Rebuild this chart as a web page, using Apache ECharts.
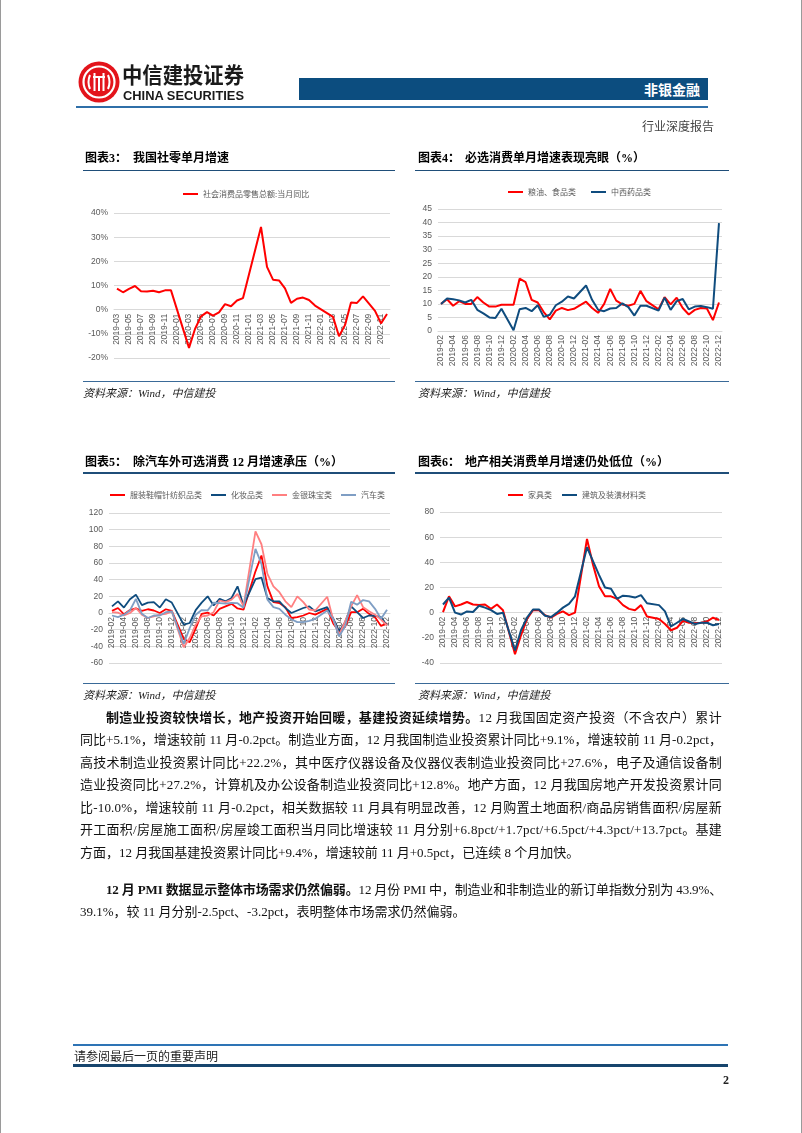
<!DOCTYPE html>
<html><head><meta charset="utf-8">
<script src="https://cdn.jsdelivr.net/npm/echarts@6/dist/echarts.min.js"></script>
<style>
html,body{margin:0;padding:0;background:#fff;}
body{width:802px;height:1133px;position:relative;overflow:hidden;font-family:"Liberation Serif","Noto Sans CJK SC",serif;}
.abs{position:absolute;white-space:nowrap;}
#chart{position:absolute;left:0;top:0;width:802px;height:1133px;}
.ttl{position:absolute;white-space:nowrap;font-family:"Liberation Serif","Noto Sans CJK SC";font-weight:bold;font-size:12px;color:#000;line-height:14px;}
.src{position:absolute;white-space:nowrap;font-style:italic;font-size:11px;color:#222;line-height:12px;}
.bar{position:absolute;}
.ln{position:absolute;left:80px;width:642px;font-size:13px;line-height:16px;color:#111;white-space:nowrap;}
</style></head>
<body>
<div id="chart"></div>
<div class="bar" style="left:0;top:0;width:1px;height:1133px;background:#9a9a9a;"></div>
<div class="bar" style="left:801px;top:0;width:1px;height:1133px;background:#9a9a9a;"></div>

<!-- header -->
<svg class="abs" style="left:78px;top:61px" width="44" height="44" viewBox="0 0 44 44">
  <circle cx="21" cy="21" r="20.5" fill="#e3141b"/>
  <circle cx="21" cy="21" r="15.5" fill="none" stroke="#fff" stroke-width="2.2"/>
  <path d="M12 14 Q9 21 12 28" fill="none" stroke="#fff" stroke-width="2"/>
  <path d="M30 14 Q33 21 30 28" fill="none" stroke="#fff" stroke-width="2"/>
  <line x1="16.5" y1="12" x2="16.5" y2="30" stroke="#fff" stroke-width="2"/>
  <line x1="25.5" y1="12" x2="25.5" y2="30" stroke="#fff" stroke-width="2"/>
  <line x1="15" y1="16" x2="27" y2="16" stroke="#fff" stroke-width="2"/>
  <line x1="21" y1="16" x2="21" y2="30" stroke="#fff" stroke-width="2"/>
</svg>
<svg class="abs" style="left:120px;top:62px" width="130" height="42">
  <text x="2" y="21" font-family="Noto Sans CJK SC" font-weight="bold" font-size="22" fill="#1a1a1a" textLength="122" lengthAdjust="spacingAndGlyphs">中信建投证券</text>
  <text x="3" y="38" font-family="Liberation Sans" font-weight="bold" font-size="13" fill="#1a1a1a" textLength="121" lengthAdjust="spacingAndGlyphs">CHINA SECURITIES</text>
</svg>
<div class="bar" style="left:299px;top:78px;width:409px;height:22px;background:#0c4d7f;"></div>
<div class="abs" style="left:640px;top:79px;width:60px;text-align:right;font-family:'Noto Sans CJK SC';font-weight:bold;font-size:14px;line-height:20px;color:#fff;">非银金融</div>
<div class="bar" style="left:76px;top:106px;width:632px;height:1.5px;background:#2f6fa8;"></div>
<div class="abs" style="left:642px;top:119px;font-size:12px;line-height:16px;color:#444;">行业深度报告</div>

<!-- chart titles -->
<div class="ttl" style="left:85px;top:151px;">图表3：</div>
<div class="ttl" style="left:133px;top:151px;">我国社零单月增速</div>
<div class="ttl" style="left:418px;top:151px;">图表4：</div>
<div class="ttl" style="left:465px;top:151px;">必选消费单月增速表现亮眼（%）</div>
<div class="bar" style="left:83px;top:169.5px;width:312px;height:1.6px;background:#1f4e79;"></div>
<div class="bar" style="left:415px;top:169.5px;width:314px;height:1.6px;background:#1f4e79;"></div>
<div class="bar" style="left:83px;top:381px;width:312px;height:1.2px;background:#3a6a98;"></div>
<div class="bar" style="left:415px;top:381px;width:314px;height:1.2px;background:#3a6a98;"></div>
<div class="src" style="left:83px;top:387px;">资料来源：Wind，中信建投</div>
<div class="src" style="left:418px;top:387px;">资料来源：Wind，中信建投</div>

<div class="ttl" style="left:85px;top:455px;">图表5：</div>
<div class="ttl" style="left:133px;top:455px;">除汽车外可选消费 12 月增速承压（%）</div>
<div class="ttl" style="left:418px;top:455px;">图表6：</div>
<div class="ttl" style="left:465px;top:455px;">地产相关消费单月增速仍处低位（%）</div>
<div class="bar" style="left:83px;top:472px;width:312px;height:1.6px;background:#1f4e79;"></div>
<div class="bar" style="left:415px;top:472px;width:314px;height:1.6px;background:#1f4e79;"></div>
<div class="bar" style="left:83px;top:683px;width:312px;height:1.2px;background:#3a6a98;"></div>
<div class="bar" style="left:415px;top:683px;width:314px;height:1.2px;background:#3a6a98;"></div>
<div class="src" style="left:83px;top:689px;">资料来源：Wind，中信建投</div>
<div class="src" style="left:418px;top:689px;">资料来源：Wind，中信建投</div>

<!-- body text -->
<div class="ln fit" data-indent="26" style="top:710px;"><span><b>制造业投资较快增长，地产投资开始回暖，基建投资延续增势。</b>12 月我国固定资产投资（不含农户）累计</span></div>
<div class="ln fit" style="top:732px;"><span>同比+5.1%，增速较前 11 月-0.2pct。制造业方面，12 月我国制造业投资累计同比+9.1%，增速较前 11 月-0.2pct，</span></div>
<div class="ln fit" style="top:755px;"><span>高技术制造业投资累计同比+22.2%，其中医疗仪器设备及仪器仪表制造业投资同比+27.6%，电子及通信设备制</span></div>
<div class="ln fit" style="top:777px;"><span>造业投资同比+27.2%，计算机及办公设备制造业投资同比+12.8%。地产方面，12 月我国房地产开发投资累计同</span></div>
<div class="ln fit" style="top:800px;"><span>比-10.0%，增速较前 11 月-0.2pct，相关数据较 11 月具有明显改善，12 月购置土地面积/商品房销售面积/房屋新</span></div>
<div class="ln fit" style="top:822px;"><span>开工面积/房屋施工面积/房屋竣工面积当月同比增速较 11 月分别+6.8pct/+1.7pct/+6.5pct/+4.3pct/+13.7pct。基建</span></div>
<div class="ln" style="top:845px;"><span>方面，12 月我国基建投资累计同比+9.4%，增速较前 11 月+0.5pct，已连续 8 个月加快。</span></div>
<div class="ln fit" data-indent="26" style="top:882px;"><span><b>12 月 PMI 数据显示整体市场需求仍然偏弱。</b>12 月份 PMI 中，制造业和非制造业的新订单指数分别为 43.9%、</span></div>
<div class="ln" style="top:904px;"><span>39.1%，较 11 月分别-2.5pct、-3.2pct，表明整体市场需求仍然偏弱。</span></div>

<!-- footer -->
<div class="bar" style="left:73px;top:1044px;width:655px;height:2px;background:#2e74b5;"></div>
<div class="abs" style="left:74px;top:1050px;font-size:12px;line-height:15px;color:#222;">请参阅最后一页的重要声明</div>
<div class="bar" style="left:73px;top:1064px;width:655px;height:3px;background:#17456d;"></div>
<div class="abs" style="left:723px;top:1073px;font-size:12px;font-weight:bold;line-height:15px;color:#222;">2</div>

<script>
// fit justified body lines to the column width
document.querySelectorAll('.ln').forEach(function (el) {
  const ind = +(el.getAttribute('data-indent') || 0);
  el.querySelector('span').style.marginLeft = ind + 'px';
  if (!el.classList.contains('fit')) return;
  const sp = el.querySelector('span');
  const w = sp.getBoundingClientRect().width;
  const n = sp.textContent.length;
  const extra = (642 - ind - w) / n;
  el.style.letterSpacing = extra + 'px';
});

// ---------- data ----------
function monthLabels(y0, m0, y1, m1) {
  const out = [];
  let y = y0, m = m0;
  while (y < y1 || (y === y1 && m <= m1)) {
    out.push(y + '-' + (m < 10 ? '0' + m : m));
    m++; if (m > 12) { m = 1; y++; }
  }
  return out;
}
const months3 = monthLabels(2019, 3, 2022, 12);   // chart 3
const monthsAll = monthLabels(2019, 2, 2022, 12); // charts 4-6

// 图表3 社会消费品零售总额:当月同比 (%), 2019-03 .. 2022-12
const retailYoY = [
  8.7, 7.2, 8.6, 9.8, 7.6, 7.5, 7.8, 7.2, 8.0, 8.0,
  null, null, -15.8, -8.0, -2.8, -1.0, -2.5, -1.1, 2.3, 1.4, 3.8, 4.8,
  null, null, 34.2, 17.7, 12.4, 12.1, 8.8, 2.8, 4.5, 5.0, 4.0, 1.7,
  null, null, -3.0, -11.0, -6.4, 3.0, 2.8, 5.5, 2.5, -0.5, -5.7, -1.8
];

// 图表4, 2019-02 .. 2022-12
const grainFood = [
  10.0, 11.7, 9.3, 11.0, 10.0, 10.0, 12.5, 10.5, 9.0, 9.0, 9.7,
  null, 9.7, 19.3, 18.0, 11.5, 10.5, 7.0, 4.3, 7.5, 8.5, 7.7, 8.2,
  null, 10.8, 8.5, 6.7, 10.0, 15.5, 11.2, 9.8, 9.3, 10.0, 14.8, 11.0,
  null, 8.0, 12.5, 9.8, 12.3, 8.5, 6.1, 7.8, 8.5, 8.3, 4.0, 10.5
];
const medicine = [
  10.0, 12.0, 11.7, 11.3, 10.5, 11.5, 7.8, 6.5, 5.0, 4.8, 8.2,
  null, 0.3, 8.0, 8.5, 7.3, 9.5, 5.2, 6.0, 9.5, 10.8, 12.7, 12.0,
  null, 16.8, 11.5, 7.8, 7.3, 8.3, 8.5, 10.2, 8.8, 5.7, 9.3, 9.3,
  null, 7.5, 12.3, 7.8, 11.0, 11.8, 8.0, 9.0, 9.2, 8.8, 8.2, 39.8
];

// 图表5, 2019-02 .. 2022-12
const apparel = [
  2.5, 6.0, -1.5, 3.5, 5.5, 2.5, 4.5, 3.0, 0.0, 4.5, 2.5,
  null, -31.0, -35.0, -18.5, -1.0, 0.5, -3.0, 5.0, 8.0, 11.0, 5.5, 4.0,
  null, 50.0, 69.0, 32.0, 13.0, 12.0, 7.0, -6.0, -5.0, -3.0, 0.0, -2.0,
  null, 5.0, -12.5, -22.5, -16.5, 1.0, 1.0, 5.0, -1.0, -5.0, -15.5, -12.5
];
const cosmetics = [
  8.0, 14.0, 6.5, 16.5, 22.0, 9.5, 12.5, 13.0, 6.5, 16.5, 12.5,
  null, -14.0, -12.0, 3.5, 12.5, 20.0, 9.0, 17.0, 14.0, 18.0, 32.0, 9.0,
  null, 40.7, 42.5, 17.8, 14.0, 14.0, 6.0, 0.0, 3.0, 6.0, 8.0, 2.0,
  null, 7.0, -6.5, -22.0, -11.0, 8.0, 1.0, -6.0, -3.0, -3.5, -5.0, -15.0
];
const jewelry = [
  1.0, 0.5, -3.0, 0.0, 6.0, -2.0, -6.0, -4.0, -2.0, -1.0, 2.0,
  null, -41.0, -30.0, -14.0, -4.0, -3.0, 1.0, 15.0, 13.0, 16.0, 23.0, 8.0,
  null, 98.0, 82.5, 47.0, 32.0, 25.0, 14.0, 7.0, 20.0, 13.0, 4.0, 3.0,
  null, 19.5, -8.0, -26.0, -10.0, 8.0, 21.5, 7.0, 2.0, -2.0, -8.0, -15.0
];
const autos = [
  -3.0, -5.0, -2.0, 3.0, 17.0, -1.0, -6.0, -3.0, -3.0, 1.0, 2.0,
  null, -37.0, -18.0, -2.0, 3.5, 3.2, 12.3, 11.8, 11.2, 12.0, 11.8, 6.4,
  null, 77.0, 59.0, 16.0, 7.0, 5.0, -2.0, -7.5, -11.0, -11.0, -9.5, -7.0,
  null, 3.0, -7.5, -28.0, -16.0, 13.5, 10.0, 15.5, 14.0, 5.0, -7.0, 4.0
];

// 图表6, 2019-02 .. 2022-12
const furniture = [
  0.4, 13.0, 5.0, 6.5, 8.5, 6.5, 6.0, 6.5, 3.0, 6.5, 2.0,
  null, -33.0, -18.0, -5.0, 2.0, 2.0, -2.0, -4.0, -1.0, 1.0, -2.0, 0.0,
  null, 58.6, 38.0, 21.0, 13.0, 13.0, 11.0, 6.0, 3.0, 2.0, 6.0, -3.0,
  null, -5.0, -9.0, -14.0, -12.0, -6.5, -8.0, -8.5, -8.0, -7.0, -4.0, -5.8
];
const buildingMat = [
  6.5, 12.0, 0.0, -1.5, 1.0, 0.5, 5.5, 4.0, 2.0, -1.0, 0.0,
  null, -30.0, -14.0, -4.0, 2.5, 2.5, -2.5, -3.5, 0.0, 4.0, 7.0, 13.0,
  null, 52.0, 41.0, 30.0, 20.0, 19.0, 11.0, 13.5, 13.0, 12.0, 14.0, 7.5,
  null, 6.0, 1.0, -11.0, -8.0, -5.0, -7.0, -9.0, -8.0, -8.0, -10.0, -9.0
];

// ---------- chart ----------
const RED = '#ff0000', NAVY = '#0f4c7e', PINK = '#ff7f80', STEEL = '#7f9ec4';
const GRID_LINE = '#d9d9d9', LABEL = '#595959';
const FONT = '"Noto Sans CJK SC", "Liberation Sans", sans-serif';

// offset lifts the category axis (with its labels) from the grid bottom up to the zero line
function xAxis(idx, data, offset) {
  return {
    type: 'category', gridIndex: idx, data: data, boundaryGap: true, position: 'bottom',
    offset: offset || 0,
    axisTick: { show: false },
    axisLine: { show: true, onZero: false, lineStyle: { color: GRID_LINE, width: 1 } },
    axisLabel: { rotate: 90, interval: 1, fontSize: 8.5, color: LABEL, margin: 4, fontFamily: 'Liberation Sans' }
  };
}
function yAxis(idx, min, max, step, fmt) {
  return {
    type: 'value', gridIndex: idx, min: min, max: max, interval: step,
    axisLine: { show: false }, axisTick: { show: false },
    splitLine: { lineStyle: { color: GRID_LINE, width: 1 } },
    axisLabel: { fontSize: 8.5, color: LABEL, margin: 6, fontFamily: 'Liberation Sans', formatter: fmt || '{value}' }
  };
}
function line(name, idx, data, color, w) {
  return {
    name: name, type: 'line', xAxisIndex: idx, yAxisIndex: idx, data: data,
    showSymbol: false, symbol: 'none', connectNulls: true, smooth: false,
    lineStyle: { color: color, width: w || 2 }, itemStyle: { color: color },
    emphasis: { disabled: true }
  };
}
function legend(left, top, names, gap) {
  return {
    left: left, top: top, data: names, icon: 'rect', itemWidth: 15, itemHeight: 2,
    itemGap: gap, padding: 0, selectedMode: false,
    textStyle: { fontSize: 8, color: LABEL, fontFamily: FONT }
  };
}

const grids = [
  { left: 114, top: 213, width: 276, height: 145 },
  { left: 438, top: 209, width: 284, height: 122 },
  { left: 109, top: 513, width: 281, height: 150 },
  { left: 440, top: 512, width: 282, height: 151 }
];
// distance from grid bottom to the zero line, in px (min/max of each y axis)
function zeroOffset(g, min, max) { return -g.height * (0 - min) / (max - min); }

const chart = echarts.init(document.getElementById('chart'), null, { renderer: 'canvas' });
chart.setOption({
  animation: false,
  backgroundColor: 'transparent',
  grid: grids,
  xAxis: [
    xAxis(0, months3, zeroOffset(grids[0], -20, 40)),
    xAxis(1, monthsAll, 0),
    xAxis(2, monthsAll, zeroOffset(grids[2], -60, 120)),
    xAxis(3, monthsAll, zeroOffset(grids[3], -40, 80))
  ],
  yAxis: [
    yAxis(0, -20, 40, 10, '{value}%'),
    yAxis(1, 0, 45, 5),
    yAxis(2, -60, 120, 20),
    yAxis(3, -40, 80, 20)
  ],
  legend: [
    legend(183, 190, ['社会消费品零售总额:当月同比'], 10),
    legend(508, 188, ['粮油、食品类', '中西药品类'], 15),
    legend(110, 491, ['服装鞋帽针纺织品类', '化妆品类', '金银珠宝类', '汽车类'], 9),
    legend(508, 491, ['家具类', '建筑及装潢材料类'], 10)
  ],
  series: [
    line('社会消费品零售总额:当月同比', 0, retailYoY, RED, 2),
    line('粮油、食品类', 1, grainFood, RED, 2),
    line('中西药品类', 1, medicine, NAVY, 2),
    line('服装鞋帽针纺织品类', 2, apparel, RED, 1.8),
    line('化妆品类', 2, cosmetics, NAVY, 1.8),
    line('金银珠宝类', 2, jewelry, PINK, 1.8),
    line('汽车类', 2, autos, STEEL, 1.8),
    line('家具类', 3, furniture, RED, 2),
    line('建筑及装潢材料类', 3, buildingMat, NAVY, 2)
  ]
});
</script>
</body></html>
